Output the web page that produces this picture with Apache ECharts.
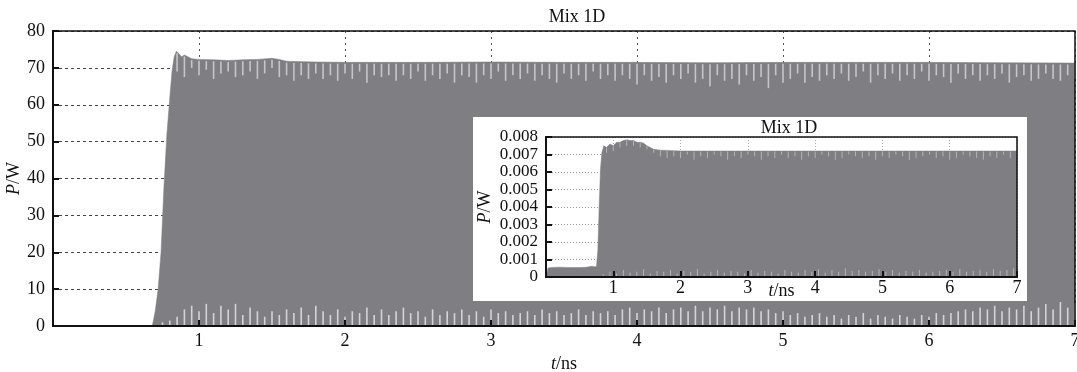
<!DOCTYPE html>
<html><head><meta charset="utf-8">
<script src="https://cdn.jsdelivr.net/npm/echarts@6/dist/echarts.min.js"></script>
<style>html,body{margin:0;padding:0;background:#fff}#c{width:1077px;height:372px}</style>
</head><body><div id="c"></div>
<script>
// ---- main chart data ----
const mainTitle = 'Mix 1D';
const xTicks = [1, 2, 3, 4, 5, 6, 7];
const yTicksMain = [0, 10, 20, 30, 40, 50, 60, 70, 80];
// upper envelope of the power trace (t in ns, P in W)
const mainEnvT = [0, 0.68, 0.70, 0.72, 0.74, 0.76, 0.78, 0.80, 0.815, 0.83, 0.845, 0.86, 0.88, 0.90, 0.95, 1.0, 1.1, 1.2, 1.3, 1.4, 1.5, 1.55, 1.6, 1.8, 2.0, 2.5, 3.0, 3.5, 4.0, 4.5, 5.0, 5.5, 6.0, 6.5, 7.0];
const mainEnvP = [0, 0, 4, 10, 20, 38, 52, 62, 69, 73, 74.5, 74, 73, 73.5, 72.5, 72.3, 72.2, 72.0, 72.2, 72.3, 72.6, 72.3, 71.8, 71.6, 71.5, 71.5, 71.6, 71.5, 71.5, 71.4, 71.5, 71.5, 71.5, 71.4, 71.3];
// light notches hanging from the top edge: sampled from t=0.85 every 0.05 ns (lower end, W)
const mainNotchT0 = 0.85, mainNotchDt = 0.05;
const mainNotchLow = [
 69, 67.5, 70, 68, 69.5, 67, 68.5, 69, 67.5, 68,
 69, 67, 68.5, 70, 67.5, 68, 66.5, 68, 67, 68.5,
 67, 68, 66.5, 68.5, 67, 69, 66, 68, 67.5, 68,
 66.5, 68, 67, 69, 66.5, 68, 67, 68.5, 66, 68,
 67.5, 66, 68, 67, 69, 66.5, 68, 67, 68.5, 66.5,
 68, 67, 66, 68.5, 67, 68, 66.5, 69, 67, 68,
 66.5, 68, 67, 65.5, 68, 66.5, 67.5, 66, 68, 67,
 68.5, 66, 67, 65, 68, 66.5, 67, 65.5, 68, 66.5,
 67.5, 64.5, 68, 66, 67, 68.5, 66, 67.5, 66.5, 68,
 67, 68.5, 66.5, 67.5, 69, 66, 68, 67, 68.5, 66.5,
 68, 67, 69, 66.5, 68, 67.5, 66, 68.5, 67, 68,
 66.5, 68, 67, 68.5, 66, 67.5, 68, 66.5, 67, 68.5,
 67, 66.5, 68, 67];
// light spikes rising from the baseline: sampled from t=0.75 every 0.05 ns (height, W)
const mainSpikeT0 = 0.75, mainSpikeDt = 0.05;
const mainSpikeH = [
 1, 1.5, 2.5, 4.5, 5.5, 4, 6, 3.5, 5.5, 4.5,
 6, 3, 5, 4, 2.5, 4, 3, 4.5, 3.5, 5,
 3, 5.5, 4, 3, 4.5, 2.5, 4, 3.5, 5, 3,
 4.5, 3, 4, 5, 3.5, 4, 2.5, 4.5, 3, 4,
 3.5, 4.5, 3, 4, 2.5, 4.5, 3.5, 4, 3, 3.5,
 4, 3, 4.5, 3.5, 4, 3, 3.5, 4.5, 3, 4,
 3.5, 4, 3, 4.5, 5, 3.5, 4.5, 4, 5, 3.5,
 4.5, 5, 4, 5.5, 4, 5, 4.5, 5.5, 4, 5,
 4.5, 5, 4, 4.5, 3.5, 4, 3, 3.5, 2.5, 3,
 3.5, 2.5, 3, 2, 3, 2.5, 3.5, 2, 3, 2.5,
 2, 3, 2.5, 2, 3, 2.5, 3.5, 3, 3.5, 4,
 4.5, 4, 5, 4.5, 5.5, 4, 5, 4.5, 5.5, 4,
 5, 6, 4.5, 6.5, 5, 6];

// ---- inset data ----
const insetTitle = 'Mix 1D';
const yTicksInset = [0, 0.001, 0.002, 0.003, 0.004, 0.005, 0.006, 0.007, 0.008];
const insetEnvT = [0, 0.03, 0.1, 0.2, 0.3, 0.4, 0.5, 0.6, 0.68, 0.72, 0.75, 0.77, 0.79, 0.81, 0.83, 0.86, 0.9, 0.95, 1.0, 1.05, 1.1, 1.15, 1.2, 1.25, 1.3, 1.35, 1.4, 1.45, 1.5, 1.55, 1.6, 1.7, 2.0, 3.0, 4.0, 5.0, 6.0, 7.0];
const insetEnvP = [0, 0.00052, 0.00055, 0.00056, 0.00055, 0.00054, 0.00054, 0.00056, 0.00062, 0.00058, 0.0006, 0.0015, 0.004, 0.0062, 0.0071, 0.0075, 0.0074, 0.0076, 0.0075, 0.0077, 0.0077, 0.0078, 0.00785, 0.0078, 0.0078, 0.0077, 0.0077, 0.00765, 0.0075, 0.0074, 0.0073, 0.00725, 0.0072, 0.0072, 0.0072, 0.0072, 0.0072, 0.0072];
const insetNotchT0 = 0.9, insetNotchDt = 0.1;
const insetNotchLow = [
 0.0071, 0.0072, 0.0074, 0.0075, 0.0075, 0.0074, 0.0073, 0.0071, 0.0069, 0.0068,
 0.0069, 0.0068, 0.0070, 0.0067, 0.0069, 0.0068, 0.0070, 0.0069, 0.0067, 0.0069,
 0.0068, 0.0070, 0.0069, 0.0067, 0.0069, 0.0068, 0.0070, 0.0068, 0.0069, 0.0067,
 0.0069, 0.0068, 0.0070, 0.0069, 0.0067, 0.0068, 0.0070, 0.0069, 0.0068, 0.0069,
 0.0067, 0.0069, 0.0068, 0.0070, 0.0069, 0.0067, 0.0068, 0.0069, 0.0070, 0.0068,
 0.0069, 0.0067, 0.0068, 0.0070, 0.0069, 0.0068, 0.0067, 0.0069, 0.0068, 0.0070,
 0.0068, 0.0069];
const insetSpikeT0 = 0.85, insetSpikeDt = 0.1;
const insetSpikeH = [
 0.00015, 0.0003, 0.0002, 0.0004, 0.00025, 0.0003, 0.00045, 0.0002, 0.00035, 0.0003,
 0.0004, 0.0002, 0.00035, 0.0003, 0.00045, 0.0002, 0.0003, 0.0004, 0.00025, 0.00035,
 0.0003, 0.0002, 0.0004, 0.00025, 0.00035, 0.0003, 0.0002, 0.0004, 0.0003, 0.00025,
 0.0004, 0.0003, 0.00045, 0.00025, 0.0004, 0.0003, 0.0005, 0.00035, 0.0004, 0.0003,
 0.00035, 0.00045, 0.0003, 0.0004, 0.00025, 0.00035, 0.0003, 0.0004, 0.00025, 0.0003,
 0.00035, 0.0004, 0.0003, 0.00045, 0.0003, 0.00035, 0.0004, 0.0003, 0.00045, 0.00035,
 0.0004, 0.0005];

// ---- helpers ----
function envAt(T, P, t) {
  for (let i = 1; i < T.length; i++) {
    if (t <= T[i]) { const f = (t - T[i-1]) / (T[i] - T[i-1]); return P[i-1] + f * (P[i] - P[i-1]); }
  }
  return P[P.length - 1];
}
const pairs = (T, P) => T.map((t, i) => [t, P[i]]);
function notchData(T, P, t0, dt, lows, inset) {
  return lows.map((lo, i) => { const t = +(t0 + i * dt).toFixed(3); return [t, lo, envAt(T, P, t) - inset]; });
}
function spikeData(t0, dt, hs) { return hs.map((h, i) => [+(t0 + i * dt).toFixed(3), 0, h]); }
const FONT = 'Liberation Serif';
const GREY = '#7f7f83';
const LIGHT = '#c6c6c8';
function vline(color, w) {
  return function (params, api) {
    const a = api.coord([api.value(0), api.value(1)]);
    const b = api.coord([api.value(0), api.value(2)]);
    return { type: 'line', shape: { x1: a[0], y1: a[1], x2: b[0], y2: b[1] }, style: { stroke: color, lineWidth: w } };
  };
}
const mkRich = (fs) => ({ i: { fontStyle: 'italic', fontFamily: FONT, fontSize: fs, color: '#111' }, n: { fontFamily: FONT, fontSize: fs, color: '#111' } });
const splitX = (gi, z, color, dash) => ({ type: 'value', gridIndex: gi, position: 'top', min: 0, max: 7, interval: 1, z,
  axisLine: { show: false }, axisTick: { show: false }, axisLabel: { show: false },
  splitLine: { show: true, lineStyle: { color, type: dash, width: 1 } } });
const splitY = (gi, z, max, itv, color, dash) => ({ type: 'value', gridIndex: gi, position: 'right', min: 0, max, interval: itv, z,
  axisLine: { show: false }, axisTick: { show: false }, axisLabel: { show: false },
  splitLine: { show: true, lineStyle: { color, type: dash, width: 1 } } });

const chart = echarts.init(document.getElementById('c'), null, { renderer: 'canvas' });
chart.setOption({
  animation: false,
  backgroundColor: '#fff',
  title: [
    { text: mainTitle, left: 572, top: 3, textAlign: 'center', textStyle: { fontFamily: FONT, fontSize: 18, fontWeight: 'normal', color: '#111' } },
    { text: insetTitle, left: 784, top: 114, textAlign: 'center', z: 40, textStyle: { fontFamily: FONT, fontSize: 18, fontWeight: 'normal', color: '#111' } }
  ],
  graphic: [{ type: 'rect', shape: { x: 473, y: 117, width: 554, height: 184 }, style: { fill: '#fff' }, z: 10 }],
  grid: [
    { left: 53, top: 31, right: 2, bottom: 46, outerBoundsMode: 'none', containLabel: false, show: true, borderColor: '#111', borderWidth: 1.5, backgroundColor: 'transparent', z: 5 },
    { left: 546, top: 137, width: 471, height: 140, outerBoundsMode: 'none', containLabel: false, show: true, borderColor: '#111', borderWidth: 1.5, backgroundColor: 'transparent', z: 25 }
  ],
  xAxis: [
    splitX(0, 0, '#555', [2, 4]),
    { type: 'value', gridIndex: 0, position: 'bottom', min: 0, max: 7, interval: 1, z: 6, splitLine: { show: false },
      axisLine: { onZero: false, lineStyle: { color: '#111', width: 2 } }, axisTick: { inside: true, length: 6, lineStyle: { color: '#111', width: 2 } },
      axisLabel: { margin: 6, fontFamily: FONT, fontSize: 18, color: '#111', formatter: v => xTicks.includes(v) ? String(v) : '' },
      name: '{i|t}{n|/ns}', nameLocation: 'middle', nameGap: 26, nameTextStyle: { rich: mkRich(18) } },
    splitX(1, 15, '#aaa', [1, 2]),
    { type: 'value', gridIndex: 1, position: 'bottom', min: 0, max: 7, interval: 1, z: 30, splitLine: { show: false },
      axisLine: { onZero: false, lineStyle: { color: '#111', width: 2 } }, axisTick: { inside: true, length: 6, lineStyle: { color: '#111', width: 2 } },
      axisLabel: { margin: 2, fontFamily: FONT, fontSize: 18, color: '#111', formatter: v => xTicks.includes(v) ? String(v) : '' },
      name: '{i|t}{n|/ns}', nameLocation: 'middle', nameGap: 5, nameMoveOverlap: false, nameTextStyle: { rich: mkRich(18) } }
  ],
  yAxis: [
    splitY(0, 0, 80, 10, '#444', [3, 3]),
    { type: 'value', gridIndex: 0, position: 'left', min: 0, max: 80, interval: 10, z: 6, splitLine: { show: false },
      axisLine: { show: true, onZero: false, lineStyle: { color: '#111', width: 2 } }, axisTick: { show: true, inside: true, length: 6, lineStyle: { color: '#111', width: 2 } },
      axisLabel: { margin: 8, fontFamily: FONT, fontSize: 18, color: '#111', formatter: v => yTicksMain.includes(v) ? String(v) : '' },
      name: '{i|P}{n|/W}', nameLocation: 'middle', nameGap: 30, nameMoveOverlap: false, nameTextStyle: { rich: mkRich(18) } },
    splitY(1, 15, 0.008, 0.001, '#999', [1, 2]),
    { type: 'value', gridIndex: 1, position: 'left', min: 0, max: 0.008, interval: 0.001, z: 30, splitLine: { show: false },
      axisLine: { show: true, onZero: false, lineStyle: { color: '#111', width: 2 } }, axisTick: { show: true, inside: true, length: 6, lineStyle: { color: '#111', width: 2 } },
      axisLabel: { margin: 8, fontFamily: FONT, fontSize: 17, color: '#111', lineHeight: 17,
        formatter: v => { const k = yTicksInset.find(x => Math.abs(x - v) < 1e-9); return k === undefined ? '' : (k === 0 ? '0' : k.toFixed(3)); } },
      name: '{i|P}{n|/W}', nameLocation: 'middle', nameGap: 52, nameMoveOverlap: false, nameTextStyle: { rich: mkRich(18) } }
  ],
  series: [
    { type: 'line', xAxisIndex: 1, yAxisIndex: 1, z: 2, data: pairs(mainEnvT, mainEnvP), symbol: 'none', smooth: false,
      lineStyle: { width: 0.5, color: GREY }, areaStyle: { color: GREY, opacity: 1 } },
    { type: 'custom', xAxisIndex: 1, yAxisIndex: 1, z: 3, renderItem: vline(LIGHT, 1.6),
      encode: { x: 0, y: [1, 2] }, data: notchData(mainEnvT, mainEnvP, mainNotchT0, mainNotchDt, mainNotchLow, 0.4) },
    { type: 'custom', xAxisIndex: 1, yAxisIndex: 1, z: 3, renderItem: vline('#d4d4d6', 1.6),
      encode: { x: 0, y: [1, 2] }, data: spikeData(mainSpikeT0, mainSpikeDt, mainSpikeH) },
    { type: 'line', xAxisIndex: 3, yAxisIndex: 3, z: 20, data: pairs(insetEnvT, insetEnvP), symbol: 'none', smooth: false,
      lineStyle: { width: 0.5, color: GREY }, areaStyle: { color: GREY, opacity: 1 } },
    { type: 'custom', xAxisIndex: 3, yAxisIndex: 3, z: 21, renderItem: vline('#b4b4b6', 1),
      encode: { x: 0, y: [1, 2] }, data: notchData(insetEnvT, insetEnvP, insetNotchT0, insetNotchDt, insetNotchLow, 0.00003) },
    { type: 'custom', xAxisIndex: 3, yAxisIndex: 3, z: 21, renderItem: vline('#b4b4b6', 1),
      encode: { x: 0, y: [1, 2] }, data: spikeData(insetSpikeT0, insetSpikeDt, insetSpikeH) }
  ]
});
</script></body></html>
